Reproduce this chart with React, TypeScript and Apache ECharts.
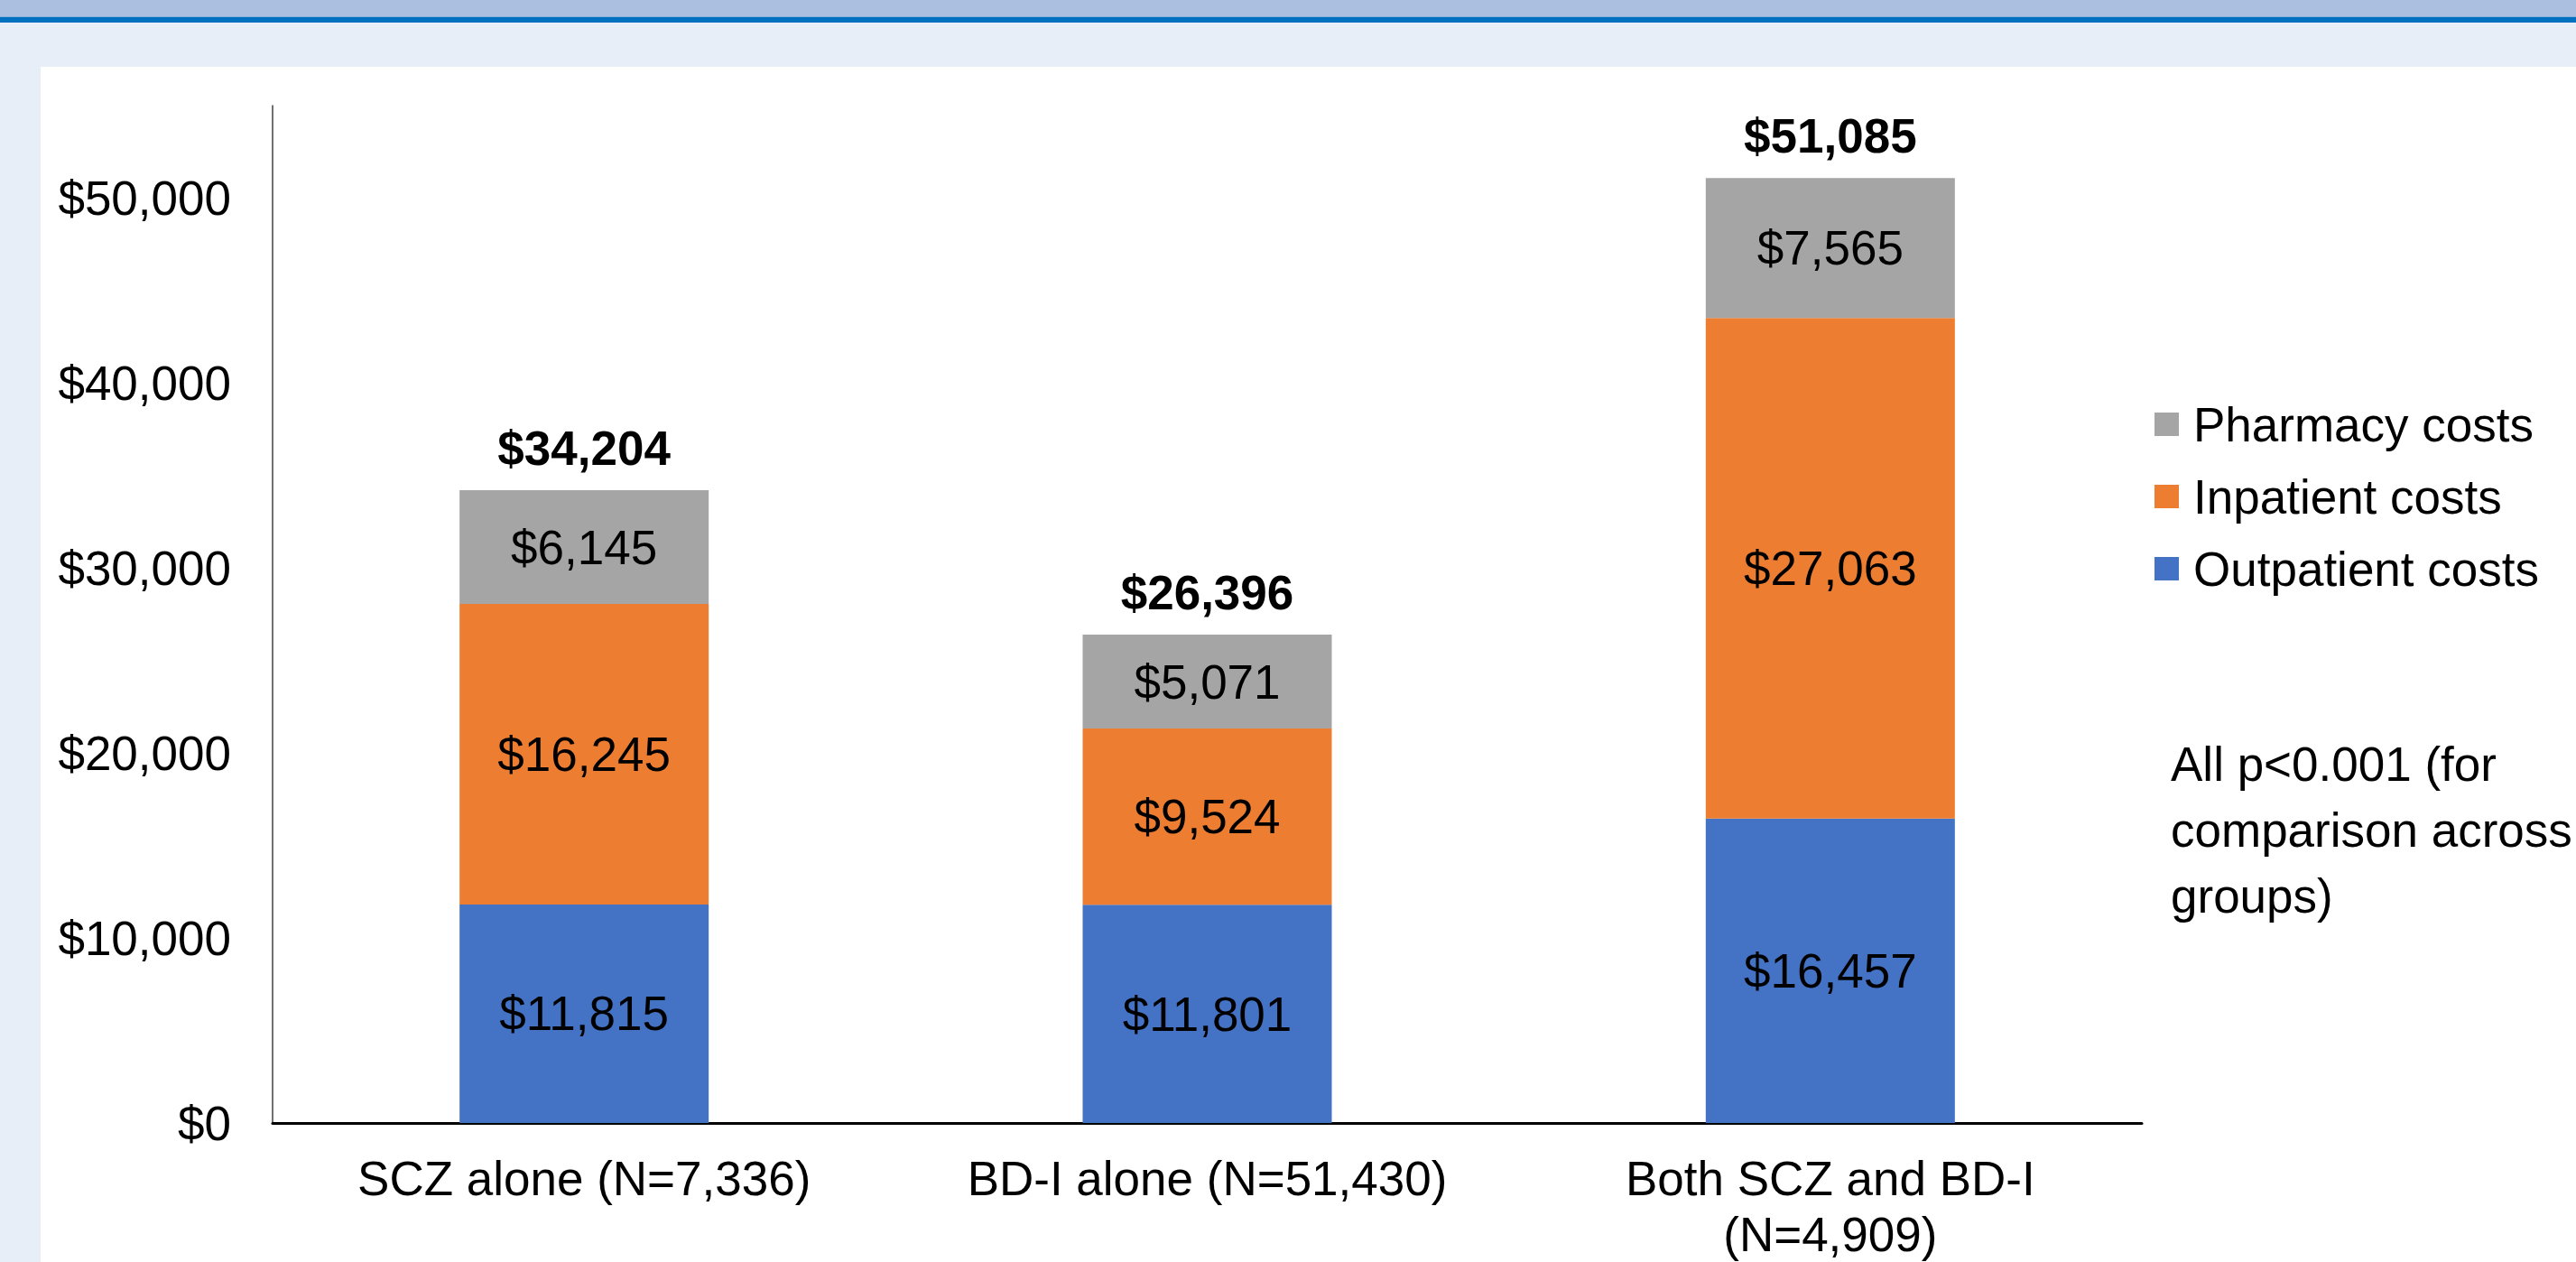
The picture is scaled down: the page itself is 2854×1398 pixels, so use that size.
import React, { useEffect, useRef } from "react";
import * as echarts from "echarts";

const categories = ["SCZ alone (N=7,336)", "BD-I alone (N=51,430)", "Both SCZ and BD-I\n(N=4,909)"];
const outpatient = [11815, 11801, 16457];
const inpatient = [16245, 9524, 27063];
const pharmacy = [6145, 5071, 7565];
const totals = [34204, 26396, 51085];
const seriesNames = ["Outpatient costs", "Inpatient costs", "Pharmacy costs"];
const legendOrder = ["Pharmacy costs", "Inpatient costs", "Outpatient costs"];
const noteText = "All p<0.001 (for\ncomparison across\ngroups)";

const FONT = "'Liberation Sans', Arial, Helvetica, sans-serif";
const fmt = (v: number) => "$" + v.toLocaleString("en-US");

export default function App() {
  const ref = useRef<HTMLDivElement>(null);
  useEffect(() => {
    if (!ref.current) return;
    const chart = echarts.init(ref.current, undefined, { renderer: "svg" });
    const barLabel = {
      show: true,
      position: "inside" as const,
      color: "#000",
      fontSize: 53,
      fontFamily: FONT,
      formatter: (p: any) => fmt(p.value),
    };
    chart.setOption({
      animation: false,
      backgroundColor: "#E8EEF7",
      textStyle: { fontFamily: FONT },
      graphic: [
        { type: "rect", z: -10, shape: { x: 0, y: 0, width: 2854, height: 18 }, style: { fill: "#ABC0E0" } },
        { type: "rect", z: -10, shape: { x: 0, y: 18, width: 2854, height: 1 }, style: { fill: "#8FB0DA" } },
        { type: "rect", z: -10, shape: { x: 0, y: 19, width: 2854, height: 6 }, style: { fill: "#0070C0" } },
        { type: "rect", z: -10, shape: { x: 45, y: 74, width: 2809, height: 1324 }, style: { fill: "#FFFFFF" } },
        {
          type: "text",
          z: 10,
          x: 2405,
          y: 810,
          style: {
            text: noteText,
            font: `53px ${FONT}`,
            fill: "#000",
            lineHeight: 73,
            verticalAlign: "top",
            align: "left",
          },
        },
      ],
      legend: {
        data: legendOrder,
        orient: "vertical",
        left: 2387,
        top: 440,
        padding: 0,
        itemWidth: 27,
        itemHeight: 26,
        itemGap: 20,
        icon: "rect",
        selectedMode: false,
        textStyle: { fontSize: 53, lineHeight: 60, color: "#000", fontFamily: FONT, padding: [0, 0, 0, 11] },
      },
      grid: { left: 302, top: 117, width: 2071, height: 1130, containLabel: false },
      xAxis: {
        type: "category",
        data: categories,
        axisLine: { show: true, lineStyle: { color: "#000", width: 3 } },
        axisTick: { show: false },
        axisLabel: { interval: 0, fontSize: 53, lineHeight: 62, color: "#000", margin: 30, fontFamily: FONT },
      },
      yAxis: {
        type: "value",
        min: 0,
        max: 55000,
        interval: 10000,
        axisLine: { show: true, lineStyle: { color: "#404040", width: 1.5 } },
        axisTick: { show: false },
        splitLine: { show: false },
        axisLabel: {
          fontSize: 53,
          color: "#000",
          margin: 46,
          fontFamily: FONT,
          showMaxLabel: false,
          formatter: (v: number) => (v % 10000 === 0 ? fmt(v) : ""),
        },
      },
      series: [
        { name: seriesNames[0], type: "bar", stack: "cost", barWidth: 276, data: outpatient, itemStyle: { color: "#4472C4" }, label: barLabel },
        { name: seriesNames[1], type: "bar", stack: "cost", barWidth: 276, data: inpatient, itemStyle: { color: "#ED7D31" }, label: barLabel },
        { name: seriesNames[2], type: "bar", stack: "cost", barWidth: 276, data: pharmacy, itemStyle: { color: "#A5A5A5" }, label: barLabel },
        {
          name: "Total",
          type: "scatter",
          data: totals,
          symbol: "rect",
          symbolSize: 1,
          itemStyle: { color: "rgba(255,255,255,0)" },
          z: 5,
          label: {
            show: true,
            position: "top",
            distance: 16,
            fontSize: 53,
            lineHeight: 60,
            fontWeight: "bold",
            color: "#000000",
            opacity: 1,
            textBorderWidth: 0,
            fontFamily: FONT,
            formatter: (p: any) => fmt(p.value),
          },
        },
      ],
    });
    return () => chart.dispose();
  }, []);
  return <div ref={ref} style={{ position: "fixed", left: 0, top: 0, width: 2854, height: 1398 }} />;
}
